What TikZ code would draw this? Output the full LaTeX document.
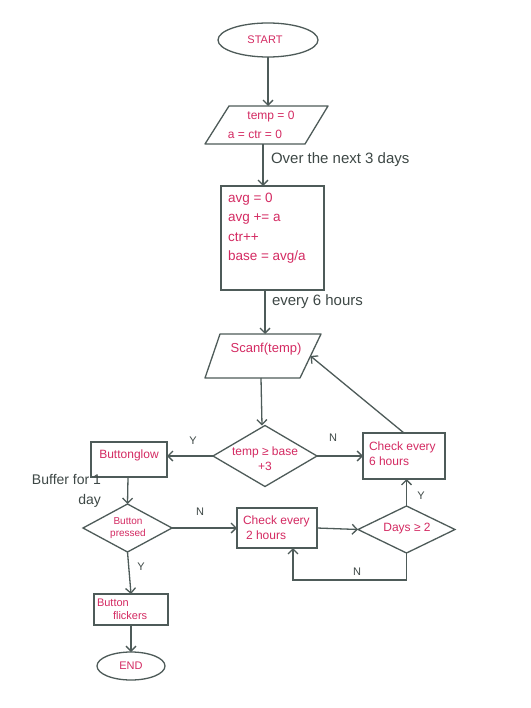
\documentclass[tikz,border=0pt]{standalone}
\usepackage{fontspec}
\setmainfont{Liberation Sans}
\usetikzlibrary{shapes.geometric,arrows.meta}
\definecolor{ln}{HTML}{4E5B59}
\definecolor{pk}{HTML}{D42A62}
\definecolor{lb}{HTML}{3E4846}
\begin{document}
\begin{tikzpicture}[x=1pt,y=-1pt,
  every node/.style={inner sep=0pt,outer sep=0pt},
  shp/.style={draw=ln,line width=1.3pt},
  pinktxt/.style={text=pk,font=\fontsize{12}{15}\selectfont},
  lbltxt/.style={text=lb,font=\fontsize{15}{19}\selectfont},
  yn/.style={text=lb,font=\fontsize{11}{13}\selectfont},
  arr/.style={draw=ln,line width=1.3pt,-{Straight Barb[length=5pt,width=10pt,line width=1.3pt]}},
  term/.style={shp,ellipse},
  proc/.style={shp,rectangle},
  dec/.style={shp,diamond}
]
\fill[white] (0,0) rectangle (530,708);
\useasboundingbox (0,0) rectangle (530,708);

% nodes
\node[term,minimum width=100pt,minimum height=34pt] (start) at (268,40) {};
\node[pinktxt,font=\fontsize{11}{13}\selectfont] (startt) at (265,40) {START};

% parallelogram 1
\coordinate (init-n) at (268,106);
\coordinate (init-s) at (263,144);
\draw[shp,line join=round] (229,106) -- (328,106) -- (305,144) -- (205,144) -- cycle;
\node[pinktxt] (initt1) at (271,117) {temp = 0};
\node[pinktxt] (initt2) at (255,134) {a = ctr = 0};

\node[proc,minimum width=103pt,minimum height=104pt] (calc) at (272.5,238) {};
\node[pinktxt,anchor=north west,align=left,font=\fontsize{13.5}{19.5}\selectfont] (calct) at (228,193) {avg = 0\\avg += a\\ctr++\\base = avg/a};

% parallelogram 2
\coordinate (scan-n) at (265,334);
\coordinate (scan-s) at (261,378);
\coordinate (scan-e) at (310.5,356);
\draw[shp,line join=round] (220,334) -- (321,334) -- (300,378) -- (205,378) -- cycle;
\node[pinktxt,font=\fontsize{13}{15}\selectfont] (scant) at (266,349) {Scanf(temp)};

\node[dec,minimum width=104pt,minimum height=61pt] (cond) at (265,456) {};
\node[pinktxt,align=center] (condt) at (265,459) {temp ≥ base\\+3};

\node[proc,minimum width=82pt,minimum height=46pt] (chk6) at (404,456) {};
\node[pinktxt,align=left,anchor=west] (chk6t) at (369,454) {Check every\\6 hours};

\node[proc,minimum width=76pt,minimum height=35pt] (glow) at (129,459.5) {};
\node[pinktxt] (glowt) at (129,455) {Buttonglow};

\node[dec,minimum width=89pt,minimum height=48pt] (press) at (127.5,528) {};
\node[pinktxt,align=center,font=\fontsize{10}{12}\selectfont] (presst) at (128,528) {Button\\pressed};

\node[proc,minimum width=80pt,minimum height=40pt] (chk2) at (277,528) {};
\node[pinktxt,align=left,anchor=west] (chk2t) at (243,528) {Check every\\\hspace{3pt}2 hours};

\node[dec,minimum width=97pt,minimum height=47pt] (days) at (406.5,529.5) {};
\node[pinktxt] (dayst) at (407,529) {Days ≥ 2};

\node[proc,minimum width=74pt,minimum height=31pt] (flick) at (131,609.5) {};
\node[pinktxt,align=left,anchor=west,font=\fontsize{11}{13}\selectfont] (flickt) at (97,609.5) {Button\\\hspace{16pt}flickers};

\node[term,minimum width=68pt,minimum height=28pt] (end) at (131,666) {};
\node[pinktxt,font=\fontsize{11}{13}\selectfont] (endt) at (131,666) {END};

% outside labels
\node[lbltxt,anchor=west] (l1) at (271,160) {Over the next 3 days};
\node[lbltxt,anchor=west] (l2) at (272,302) {every 6 hours};
\node[lbltxt,anchor=north east,align=right,font=\fontsize{14}{20}\selectfont] (l3) at (101,474) {Buffer for 1\\day};
\node[yn] (yn1) at (333,438) {N};
\node[yn] (yn2) at (193,441) {Y};
\node[yn] (yn3) at (200,512) {N};
\node[yn] (yn4) at (421,496) {Y};
\node[yn] (yn5) at (357,572) {N};
\node[yn] (yn6) at (141,567) {Y};

\coordinate (loopy) at (0,580);

% connectors
\draw[arr] (start.south) -- (init-n);
\draw[arr] (init-s) -- (init-s |- calc.north);
\draw[arr] ([xshift=-7.5pt]calc.south) -- (scan-n);
\draw[arr] (scan-s) -- ([xshift=-3pt]cond.north);
\draw[arr] (cond.east) -- (chk6.west);
\draw[arr] (chk6.north) -- (scan-e);
\draw[arr] (cond.west) -- (cond.west -| glow.east);
\draw[arr] ([xshift=-1pt]glow.south) -- (press.north);
\draw[arr] (press.east) -- (chk2.west);
\draw[arr] (chk2.east) -- (days.west);
\draw[arr] (days.north) -- (days.north |- chk6.south);
\draw[arr] (days.south) -- (days.south |- loopy) -| ([xshift=16pt]chk2.south);
\draw[arr] (press.south) -- (flick.north);
\draw[arr] (flick.south) -- (end.north);
\end{tikzpicture}
\end{document}
